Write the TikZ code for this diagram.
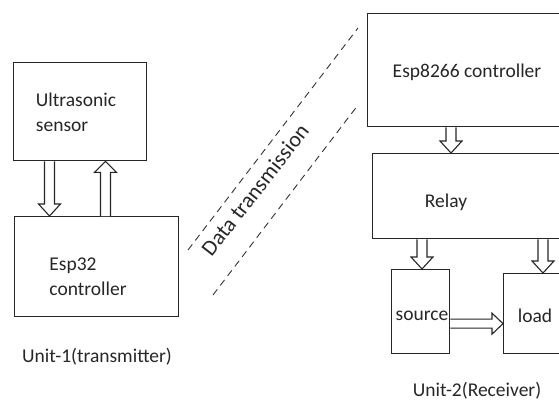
\documentclass[tikz,border=0pt]{standalone}
\usepackage{fontspec}
\setmainfont{Carlito}
\usetikzlibrary{calc}
\newcommand\blkdown[2]{\draw[blk] let \p1=#1, \p2=#2 in (\x1-5pt,\y1) -- (\x1-5pt,\y2+12pt) -- (\x1-11pt,\y2+12pt) -- (\x1,\y2) -- (\x1+11pt,\y2+12pt) -- (\x1+5pt,\y2+12pt) -- (\x1+5pt,\y1);}
\newcommand\blkup[2]{\draw[blk] let \p1=#1, \p2=#2 in (\x1-5pt,\y1) -- (\x1-5pt,\y2-11pt) -- (\x1-11pt,\y2-11pt) -- (\x1,\y2) -- (\x1+11pt,\y2-11pt) -- (\x1+5pt,\y2-11pt) -- (\x1+5pt,\y1);}
\newcommand\blkright[2]{\draw[blk] let \p1=#1, \p2=#2 in (\x1,\y1+4.5pt) -- (\x2-11pt,\y1+4.5pt) -- (\x2-11pt,\y1+10.5pt) -- (\x2,\y1) -- (\x2-11pt,\y1-10.5pt) -- (\x2-11pt,\y1-4.5pt) -- (\x1,\y1-4.5pt);}
\begin{document}
\begin{tikzpicture}[x=1pt,y=-1pt,
  box/.style={draw=black!85, line width=1.3pt, fill=white, inner sep=0pt, anchor=north west},
  txt/.style={font=\fontsize{19.5}{25}\selectfont, text=black!85, inner sep=0pt, align=left},
  blk/.style={draw=black!85, line width=1.1pt, fill=white, line join=miter},
  dline/.style={draw=black!80, line width=0.9pt, dash pattern=on 7pt off 5pt}]
\useasboundingbox (0,0) rectangle (559,401);
\clip (0,0) rectangle (559,401);
% unit 1
\node[box, minimum width=133, minimum height=98] (us) at (13,62) {};
\node[box, minimum width=164, minimum height=100] (esp) at (14,216) {};
\node[txt] (ustxt) at (76,112.5) {Ultrasonic\\sensor};
\node[txt] (esptxt) at (88,277) {Esp32\\controller};
\blkdown{($(us.south west)+(36.5,0)$)}{(esp.north)}
\blkup{($(esp.north west)+(91.5,0)$)}{(us.south)}
\node[txt] (u1) at (97,357) {Unit-1(transmitter)};
% data transmission
\coordinate (d1a) at (188,250); \coordinate (d1b) at (358,28);
\coordinate (d2a) at (213,295); \coordinate (d2b) at (358,105);
\draw[dline] (d1a) -- (d1b);
\draw[dline] (d2a) -- (d2b);
\node[txt, font=\fontsize{22}{26}\selectfont, rotate=52] (dt) at (255,190) {Data transmission};
% unit 2
\node[box, minimum width=210, minimum height=113] (e8266) at (367,13) {};
\node[txt] (e8266txt) at (467,72) {Esp8266 controller};
\node[box, minimum width=205, minimum height=85] (relay) at (372,153) {};
\node[txt] (relaytxt) at (446,202) {Relay};
\node[box, minimum width=58, minimum height=84] (src) at (391,269) {};
\node[txt] (srctxt) at (422,316) {source};
\node[box, minimum width=70, minimum height=80] (load) at (503,273) {};
\node[txt] (loadtxt) at (535,316) {load};
\blkdown{($(e8266.south west)+(84,0)$)}{(relay.north)}
\blkdown{($(relay.south west)+(50,0)$)}{(src.north)}
\blkdown{($(relay.south west)+(171,0)$)}{(load.north)}
\blkright{($(src.east)+(0,12)$)}{(load.west)}
\node[txt] (u2) at (477,391) {Unit-2(Receiver)};
\end{tikzpicture}
\end{document}
